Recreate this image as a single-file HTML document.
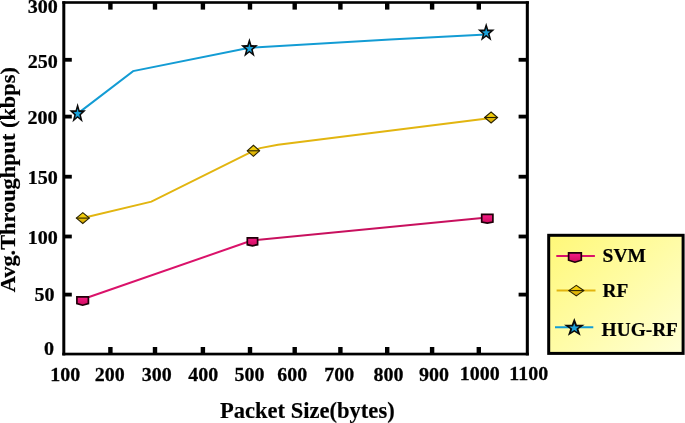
<!DOCTYPE html>
<html><head><meta charset="utf-8"><title>Avg. Throughput vs Packet Size</title>
<style>
html,body{margin:0;padding:0;background:#fff;}
svg{display:block;}
text{font-family:"Liberation Serif",serif;font-weight:bold;fill:#000;}
</style></head><body>
<svg width="685" height="423" viewBox="0 0 685 423">
<defs>
<linearGradient id="gl" x1="0" y1="0" x2="1" y2="1"><stop offset="0" stop-color="#fff878"/><stop offset="0.5" stop-color="#fffca6"/><stop offset="1" stop-color="#ffffd6"/></linearGradient>
<linearGradient id="gy" x1="0" y1="0" x2="0" y2="1"><stop offset="0" stop-color="#f8d810"/><stop offset="0.5" stop-color="#ecc408"/><stop offset="1" stop-color="#cfa204"/></linearGradient>
<linearGradient id="gp" x1="0" y1="0" x2="0" y2="1"><stop offset="0" stop-color="#f81c86"/><stop offset="1" stop-color="#cc0c5e"/></linearGradient>
</defs>
<rect width="685" height="423" fill="#fff"/>

<rect x="62.3" y="1.3" width="3.0" height="354.1" fill="#000"/>
<rect x="525.8" y="1.3" width="3.05" height="354.1" fill="#000"/>
<rect x="62.3" y="1.2" width="466.55" height="2.6" fill="#000"/>
<rect x="62.3" y="352.7" width="466.55" height="2.7" fill="#000"/>
<rect x="108.2" y="2.5" width="4.4" height="7.1" fill="#000"/>
<rect x="108.2" y="347.0" width="4.4" height="7" fill="#000"/>
<rect x="152.8" y="2.5" width="4.4" height="7.1" fill="#000"/>
<rect x="152.8" y="347.0" width="4.4" height="7" fill="#000"/>
<rect x="200.7" y="2.5" width="4.4" height="7.1" fill="#000"/>
<rect x="200.7" y="347.0" width="4.4" height="7" fill="#000"/>
<rect x="247.8" y="2.5" width="4.4" height="7.1" fill="#000"/>
<rect x="247.8" y="347.0" width="4.4" height="7" fill="#000"/>
<rect x="292.5" y="2.5" width="4.4" height="7.1" fill="#000"/>
<rect x="292.5" y="347.0" width="4.4" height="7" fill="#000"/>
<rect x="338.2" y="2.5" width="4.4" height="7.1" fill="#000"/>
<rect x="338.2" y="347.0" width="4.4" height="7" fill="#000"/>
<rect x="385.0" y="2.5" width="4.4" height="7.1" fill="#000"/>
<rect x="385.0" y="347.0" width="4.4" height="7" fill="#000"/>
<rect x="429.9" y="2.5" width="4.4" height="7.1" fill="#000"/>
<rect x="429.9" y="347.0" width="4.4" height="7" fill="#000"/>
<rect x="476.6" y="2.5" width="4.4" height="7.1" fill="#000"/>
<rect x="476.6" y="347.0" width="4.4" height="7" fill="#000"/>
<rect x="64.0" y="57.9" width="7.8" height="3.8" fill="#000"/>
<rect x="518.6" y="57.9" width="8.5" height="3.8" fill="#000"/>
<rect x="64.0" y="114.7" width="7.8" height="3.8" fill="#000"/>
<rect x="518.6" y="114.7" width="8.5" height="3.8" fill="#000"/>
<rect x="64.0" y="174.8" width="7.8" height="3.8" fill="#000"/>
<rect x="518.6" y="174.8" width="8.5" height="3.8" fill="#000"/>
<rect x="64.0" y="234.6" width="7.8" height="3.8" fill="#000"/>
<rect x="518.6" y="234.6" width="8.5" height="3.8" fill="#000"/>
<rect x="64.0" y="292.7" width="7.8" height="3.8" fill="#000"/>
<rect x="518.6" y="292.7" width="8.5" height="3.8" fill="#000"/>
<polyline points="77.6,113.6 133.1,71.1 249.4,47.8 390,39.5 486.2,34.4" fill="none" stroke="#139cd4" stroke-width="2"/>
<polyline points="82.8,218 151.4,201.6 253.4,150.8 260.1,148.1 278,144.8 491.1,117.9" fill="none" stroke="#e2b510" stroke-width="2"/>
<polyline points="252.4,240.3 487.2,217.5" fill="none" stroke="#c8105e" stroke-width="2"/>
<polyline points="82.6,299.3 252.4,240.3" fill="none" stroke="#da126a" stroke-width="2"/>
<polygon points="77.60,102.94 79.67,110.15 85.97,110.31 80.95,114.92 82.77,122.22 77.60,117.86 72.43,122.22 74.25,114.92 69.23,110.31 75.53,110.15" fill="#0a0a0a"/><polygon points="77.60,108.58 78.61,112.11 81.70,112.19 79.24,114.45 80.13,118.03 77.60,115.89 75.07,118.03 75.96,114.45 73.50,112.19 76.59,112.11" fill="#1aa3dc"/>
<polygon points="249.40,37.99 251.52,45.03 257.96,45.18 252.83,49.69 254.69,56.82 249.40,52.56 244.11,56.82 245.97,49.69 240.84,45.18 247.28,45.03" fill="#0a0a0a"/><polygon points="249.40,43.50 250.44,46.95 253.60,47.02 251.08,49.23 251.99,52.73 249.40,50.64 246.81,52.73 247.72,49.23 245.20,47.02 248.36,46.95" fill="#1aa3dc"/>
<polygon points="486.20,22.66 488.30,29.45 494.71,29.60 489.61,33.94 491.46,40.82 486.20,36.72 480.94,40.82 482.79,33.94 477.69,29.60 484.10,29.45" fill="#0a0a0a"/><polygon points="486.20,27.98 487.23,31.31 490.37,31.38 487.87,33.51 488.78,36.88 486.20,34.87 483.62,36.88 484.53,33.51 482.03,31.38 485.17,31.31" fill="#1aa3dc"/>
<polygon points="76.30,218.10 82.80,212.70 89.30,218.10 82.80,223.50" fill="url(#gy)" stroke="#2a2200" stroke-width="1.1" stroke-linejoin="miter"/><line x1="76.30" y1="218.10" x2="89.30" y2="218.10" stroke="#2a2200" stroke-width="1.1"/>
<polygon points="247.20,150.80 253.40,145.30 259.60,150.80 253.40,156.30" fill="url(#gy)" stroke="#2a2200" stroke-width="1.1" stroke-linejoin="miter"/><line x1="247.20" y1="150.80" x2="259.60" y2="150.80" stroke="#2a2200" stroke-width="1.1"/>
<polygon points="484.60,117.50 491.10,112.00 497.60,117.50 491.10,123.00" fill="url(#gy)" stroke="#2a2200" stroke-width="1.1" stroke-linejoin="miter"/><line x1="484.60" y1="117.50" x2="497.60" y2="117.50" stroke="#2a2200" stroke-width="1.1"/>
<polygon points="76.90,296.80 88.40,296.80 88.40,303.60 82.65,305.20 76.90,303.60" fill="url(#gp)" stroke="#1f0009" stroke-width="1.7" stroke-linejoin="miter"/>
<polygon points="247.30,237.80 257.60,237.80 257.60,244.70 252.45,245.80 247.30,244.70" fill="url(#gp)" stroke="#1f0009" stroke-width="1.7" stroke-linejoin="miter"/>
<polygon points="481.70,214.40 492.90,214.40 492.90,222.00 487.30,223.20 481.70,222.00" fill="url(#gp)" stroke="#1f0009" stroke-width="1.7" stroke-linejoin="miter"/>
<text transform="translate(57.9,13.2) scale(1.045,1)" font-size="19.2" text-anchor="end" stroke="#000" stroke-width="0.25">300</text>
<text transform="translate(57.9,67.8) scale(1.045,1)" font-size="19.2" text-anchor="end" stroke="#000" stroke-width="0.25">250</text>
<text transform="translate(57.6,124) scale(1.045,1)" font-size="19.2" text-anchor="end" stroke="#000" stroke-width="0.25">200</text>
<text transform="translate(57.9,184) scale(1.045,1)" font-size="19.2" text-anchor="end" stroke="#000" stroke-width="0.25">150</text>
<text transform="translate(57.9,244.4) scale(1.045,1)" font-size="19.2" text-anchor="end" stroke="#000" stroke-width="0.25">100</text>
<text transform="translate(54.6,300.7) scale(1.045,1)" font-size="19.2" text-anchor="end" stroke="#000" stroke-width="0.25">50</text>
<text transform="translate(54.0,354.6) scale(1.045,1)" font-size="19.2" text-anchor="end" stroke="#000" stroke-width="0.25">0</text>
<text transform="translate(65.3,381.2) scale(1.04,1)" font-size="19.2" text-anchor="middle" stroke="#000" stroke-width="0.25">100</text>
<text transform="translate(109.7,381.2) scale(1.04,1)" font-size="19.2" text-anchor="middle" stroke="#000" stroke-width="0.25">200</text>
<text transform="translate(156.7,381.2) scale(1.04,1)" font-size="19.2" text-anchor="middle" stroke="#000" stroke-width="0.25">300</text>
<text transform="translate(203.2,381.2) scale(1.04,1)" font-size="19.2" text-anchor="middle" stroke="#000" stroke-width="0.25">400</text>
<text transform="translate(249.5,381.2) scale(1.04,1)" font-size="19.2" text-anchor="middle" stroke="#000" stroke-width="0.25">500</text>
<text transform="translate(292.2,381.2) scale(1.04,1)" font-size="19.2" text-anchor="middle" stroke="#000" stroke-width="0.25">600</text>
<text transform="translate(339.2,381.2) scale(1.04,1)" font-size="19.2" text-anchor="middle" stroke="#000" stroke-width="0.25">700</text>
<text transform="translate(388.5,381.2) scale(1.04,1)" font-size="19.2" text-anchor="middle" stroke="#000" stroke-width="0.25">800</text>
<text transform="translate(434,381.0) scale(1.04,1)" font-size="19.2" text-anchor="middle" stroke="#000" stroke-width="0.25">900</text>
<text transform="translate(479.8,379.6) scale(1.04,1)" font-size="19.2" text-anchor="middle" stroke="#000" stroke-width="0.25">1000</text>
<text transform="translate(528.7,379.6) scale(1.04,1)" font-size="19.2" text-anchor="middle" stroke="#000" stroke-width="0.25">1100</text>
<text transform="translate(307.3,417.6) scale(1.012,1)" font-size="22.3" text-anchor="middle" stroke="#000" stroke-width="0.15">Packet Size(bytes)</text>
<text transform="translate(15.4,179.7) rotate(-90) scale(1.016,1)" font-size="22" text-anchor="middle" stroke="#000" stroke-width="0.2">Avg.Throughput (kbps)</text>
<rect x="548.7" y="235.3" width="134.4" height="118.1" fill="url(#gl)" stroke="#000" stroke-width="3"/>
<line x1="556.3" y1="256" x2="594.9" y2="256" stroke="#da126a" stroke-width="2"/>
<polygon points="568.60,252.90 581.30,252.90 581.30,260.20 574.95,262.20 568.60,260.20" fill="url(#gp)" stroke="#1f0009" stroke-width="1.7" stroke-linejoin="miter"/>
<line x1="556.6" y1="290.4" x2="595.5" y2="290.4" stroke="#e2b510" stroke-width="2"/>
<polygon points="568.80,290.60 576.30,285.30 583.80,290.60 576.30,295.90" fill="url(#gy)" stroke="#2a2200" stroke-width="1.1" stroke-linejoin="miter"/><line x1="568.80" y1="290.60" x2="583.80" y2="290.60" stroke="#2a2200" stroke-width="1.1"/>
<line x1="555" y1="327.2" x2="593.3" y2="327.2" stroke="#139cd4" stroke-width="2"/>
<polygon points="574.30,318.07 576.86,324.68 584.64,324.83 578.43,329.06 580.69,335.76 574.30,331.76 567.91,335.76 570.17,329.06 563.96,324.83 571.74,324.68" fill="#0a0a0a"/><polygon points="574.30,323.26 575.55,326.50 579.36,326.57 576.33,328.64 577.43,331.93 574.30,329.97 571.17,331.93 572.27,328.64 569.24,326.57 573.05,326.50" fill="#1aa3dc"/>
<text transform="translate(602.6,261.5) scale(1.04,1)" font-size="18.8" stroke="#000" stroke-width="0.2">SVM</text>
<text transform="translate(602.6,296.8) scale(1.03,1)" font-size="18.8" stroke="#000" stroke-width="0.2">RF</text>
<text transform="translate(601.6,336) scale(1.03,1)" font-size="18.8" stroke="#000" stroke-width="0.2">HUG-RF</text>
</svg></body></html>
